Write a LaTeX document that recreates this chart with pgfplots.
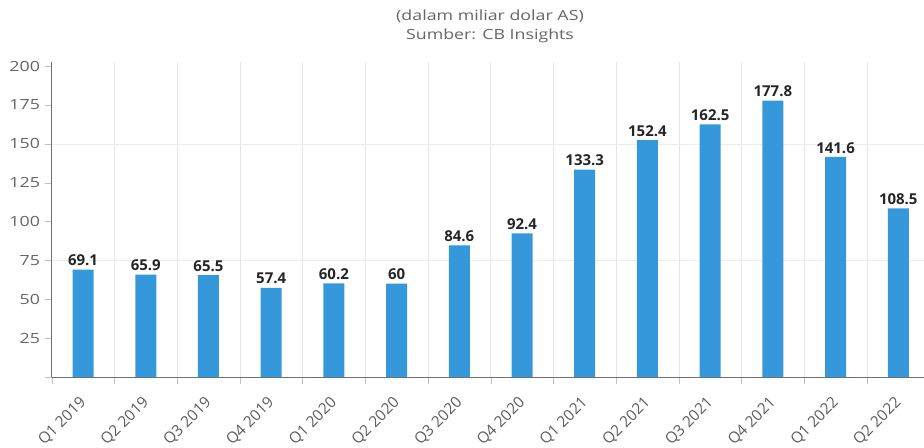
\documentclass[border=0pt]{standalone}
\usepackage{fontspec}
\setmainfont{Open Sans}[FakeStretch=1.27]
\newfontfamily\plainfont{Open Sans}
\usepackage{pgfplots}
\usepackage{pgfplotstable}
\pgfplotsset{compat=1.18}
\definecolor{barblue}{HTML}{3498DB}
\definecolor{txtgray}{HTML}{666666}
\definecolor{gridgray}{HTML}{E6E6E6}
\definecolor{axgray}{HTML}{707070}
\definecolor{tickgray}{HTML}{C0C0C0}
\pgfplotstableread{
x y lab
0 69.1 69.1
1 65.9 65.9
2 65.5 65.5
3 57.4 57.4
4 60.2 60.2
5 60 60
6 84.6 84.6
7 92.4 92.4
8 133.3 133.3
9 152.4 152.4
10 162.5 162.5
11 177.8 177.8
12 141.6 141.6
13 108.5 108.5
}\datatable
\begin{document}
\begin{tikzpicture}
\useasboundingbox (0,0) rectangle (693pt,335.25pt);
\node[font=\fontsize{10.5}{14.25}\selectfont, text=txtgray, align=center] at (367.5pt,315.4pt) {(dalam miliar dolar AS)\\Sumber: CB Insights};
\begin{axis}[
  at={(38.78pt,52.5pt)}, anchor=south west,
  scale only axis, width=654.2pt, height=236.25pt,
  xmin=-0.5, xmax=13.41, ymin=0, ymax=202.6,
  clip=false,
  axis x line=bottom, axis y line=left,
  axis line style={draw=axgray, -},
  tick align=outside,
  major tick length=5.25pt, minor tick length=5.25pt,
  xtick={0,...,13},
  xticklabels={Q1 2019,Q2 2019,Q3 2019,Q4 2019,Q1 2020,Q2 2020,Q3 2020,Q4 2020,Q1 2021,Q2 2021,Q3 2021,Q4 2021,Q1 2022,Q2 2022},
  major x tick style={draw=none},
  minor xtick={-0.5,0.5,...,12.5},
  minor x tick style={draw=tickgray},
  xminorgrids, minor x grid style={draw=gridgray},
  xticklabel style={font=\plainfont\fontsize{11.5}{13}\selectfont, text=txtgray!90!black, rotate=45, anchor=east, xshift=-5pt, yshift=-9pt},
  ytick={0,25,...,200},
  yticklabels={,25,50,75,100,125,150,175,200},
  ytick style={draw=tickgray},
  yticklabel style={font=\fontsize{10.5}{12}\selectfont, text=txtgray},
  ybar, bar width=15.75pt,
  nodes near coords,
  point meta=explicit symbolic,
  nodes near coords style={font=\plainfont\bfseries\fontsize{11.25}{13}\selectfont, text=black!85, anchor=south, inner sep=2.5pt},
]
\draw[gridgray!70] (axis cs:-0.5,75) -- (axis cs:13.41,75);
\draw[gridgray!70] (axis cs:-0.5,150) -- (axis cs:13.41,150);
\addplot[fill=barblue, draw=none] table[x=x, y=y, meta=lab] {\datatable};
\end{axis}
\end{tikzpicture}
\end{document}
